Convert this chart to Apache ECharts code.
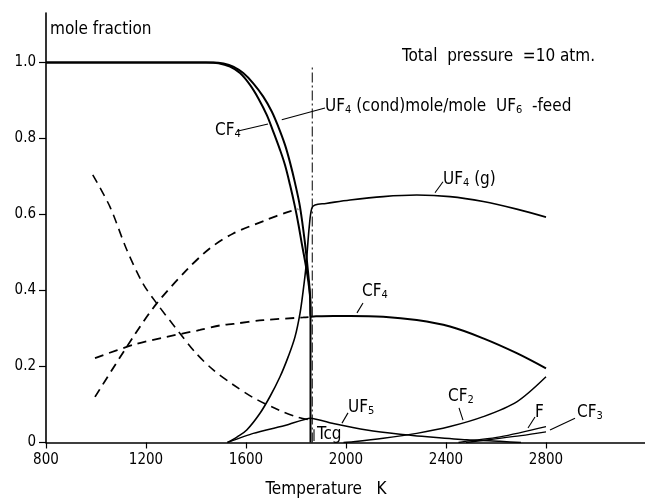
<!DOCTYPE html>
<html>
<head>
<meta charset="utf-8">
<script src="https://cdn.jsdelivr.net/npm/echarts@6/dist/echarts.min.js"></script>
<style>
  html, body { margin: 0; padding: 0; background: #fff; }
  #main { width: 645px; height: 502px; }
</style>
</head>
<body>
<div id="main"></div>
<script>
// temperatures (K) and mole fractions
var cf4SolidT = [800, 1440, 1490, 1536, 1576, 1616, 1649, 1683, 1709, 1736, 1756, 1776, 1796, 1810, 1823, 1840, 1850, 1857, 1858, 1880, 1950, 2016, 2149, 2283, 2416, 2549, 2683, 2800];
var cf4SolidV = [1, 1, 0.998, 0.989, 0.972, 0.941, 0.906, 0.862, 0.818, 0.77, 0.73, 0.678, 0.62, 0.573, 0.524, 0.463, 0.42, 0.375, 0.331, 0.332, 0.333, 0.333, 0.331, 0.322, 0.305, 0.274, 0.235, 0.195];

var uf4CondT = [800, 1470, 1510, 1549, 1589, 1629, 1669, 1703, 1729, 1756, 1776, 1796, 1816, 1836, 1848, 1856, 1858, 1858];
var uf4CondV = [1, 1, 0.997, 0.989, 0.972, 0.945, 0.91, 0.871, 0.831, 0.783, 0.737, 0.683, 0.62, 0.524, 0.45, 0.39, 0.33, 0];

var uf4GasT = [1526, 1565, 1603, 1656, 1696, 1736, 1769, 1796, 1816, 1829, 1840, 1853, 1863, 1876, 1920, 2016, 2149, 2283, 2416, 2549, 2683, 2800];
var uf4GasV = [0, 0.015, 0.033, 0.077, 0.121, 0.173, 0.226, 0.278, 0.34, 0.401, 0.463, 0.568, 0.616, 0.625, 0.629, 0.638, 0.647, 0.651, 0.647, 0.634, 0.614, 0.593];

var uf4GasDashT = [996, 1149, 1243, 1363, 1456, 1549, 1683, 1760, 1809];
var uf4GasDashV = [0.12, 0.278, 0.366, 0.454, 0.511, 0.55, 0.586, 0.605, 0.614];

var cf4DashT = [996, 1149, 1283, 1416, 1496, 1549, 1669, 1829, 1850];
var cf4DashV = [0.222, 0.257, 0.278, 0.296, 0.308, 0.312, 0.322, 0.329, 0.33];

var uf5DashT = [987, 1056, 1123, 1187, 1243, 1336, 1400, 1469, 1549, 1629, 1736, 1800, 1856];
var uf5DashV = [0.704, 0.62, 0.507, 0.419, 0.366, 0.287, 0.235, 0.191, 0.152, 0.118, 0.084, 0.068, 0.059];

var uf5SolidT = [1526, 1629, 1763, 1858, 1949, 2083, 2216, 2349, 2483, 2616, 2700];
var uf5SolidV = [0, 0.024, 0.046, 0.064, 0.05, 0.033, 0.022, 0.014, 0.007, 0.003, 0];

var cf2T = [1990, 2029, 2149, 2283, 2416, 2549, 2683, 2800];
var cf2V = [0, 0.002, 0.011, 0.024, 0.042, 0.068, 0.107, 0.173];

var fT = [2450, 2496, 2616, 2800];
var fV = [0, 0.005, 0.015, 0.042];

var cf3T = [2480, 2563, 2700, 2800];
var cf3V = [0, 0.007, 0.018, 0.028];

var tcg = 1865;

var xTicks = [800, 1200, 1600, 2000, 2400, 2800];

var FONT = '"DejaVu Sans Condensed", "DejaVu Sans", sans-serif';

function zip(t, v) {
    var out = [];
    for (var i = 0; i < t.length; i++) {
        out.push([t[i], v[i]]);
    }
    return out;
}

function curve(name, t, v, width, dashed, smooth) {
    return {
        name: name,
        type: 'line',
        data: zip(t, v),
        showSymbol: false,
        symbol: 'none',
        smooth: smooth || false,
        silent: true,
        lineStyle: {
            color: '#000',
            width: width,
            type: dashed ? [9, 6] : 'solid'
        },
        z: 3
    };
}

var chart = echarts.init(document.getElementById('main'));

var option = {
    backgroundColor: '#fff',
    animation: false,
    grid: { left: 46, right: 0, top: 13, bottom: 59.5 },
    xAxis: {
        type: 'value',
        min: 800,
        max: 3196,
        interval: 400,
        axisLine: { lineStyle: { color: '#000', width: 1.6 } },
        axisTick: { length: 6, lineStyle: { color: '#000', width: 1.2 } },
        axisLabel: {
            color: '#000', fontFamily: FONT, fontSize: 15, margin: 10,
            showMaxLabel: false,
            formatter: function (v) { return xTicks.indexOf(v) >= 0 ? String(v) : ''; }
        },
        splitLine: { show: false }
    },
    yAxis: {
        type: 'value',
        min: 0,
        max: 1.13,
        interval: 0.2,
        axisLine: { show: true, lineStyle: { color: '#000', width: 1.6 } },
        axisTick: { show: true, length: 7, lineStyle: { color: '#000', width: 1.2 } },
        axisLabel: {
            color: '#000', fontFamily: FONT, fontSize: 15, margin: 10,
            showMaxLabel: false,
            formatter: function (v) { return v === 0 ? '0' : v.toFixed(1); }
        },
        splitLine: { show: false }
    },
    series: [
        curve('CF4', cf4SolidT, cf4SolidV, 2, false, 0.35),
        curve('UF4 cond', uf4CondT, uf4CondV, 2, false, 0.35),
        curve('UF4 g', uf4GasT, uf4GasV, 1.6, false, 0.35),
        curve('UF4 g metastable', uf4GasDashT, uf4GasDashV, 1.8, true, 0.3),
        curve('CF4 metastable', cf4DashT, cf4DashV, 1.8, true, 0.3),
        curve('UF5 metastable', uf5DashT, uf5DashV, 1.6, true, 0.3),
        curve('UF5', uf5SolidT, uf5SolidV, 1.5, false, 0.2),
        curve('CF2', cf2T, cf2V, 1.5, false, 0.3),
        curve('F', fT, fV, 1.3, false, 0.3),
        curve('CF3', cf3T, cf3V, 1.3, false, 0.3),
        {
            name: 'Tcg',
            type: 'line',
            data: [[tcg, 0], [tcg, 0.993]],
            showSymbol: false,
            symbol: 'none',
            silent: true,
            lineStyle: { color: '#000', width: 1, type: [10, 3, 2, 3] },
            z: 2
        }
    ]
};
chart.setOption(option);

// annotations: [text, T, v] for the text's left/middle, leaders as [T1, v1, T2, v2]
var sub = { fontSize: 11, lineHeight: 8, verticalAlign: 'bottom', fontFamily: FONT, fill: '#000' };
var notes = [
    ['mole fraction', 816, 1.086],
    ['Total  pressure  =10 atm.', 2224, 1.015],
    ['UF{s|4} (cond)mole/mole  UF{s|6}  -feed', 1916, 0.883],
    ['CF{s|4}', 1476, 0.82],
    ['UF{s|4} (g)', 2388, 0.691],
    ['CF{s|4}', 2064, 0.396],
    ['UF{s|5}', 2008, 0.091],
    ['Tcg', 1884, 0.022],
    ['CF{s|2}', 2408, 0.12],
    ['F', 2756, 0.08],
    ['CF{s|3}', 2924, 0.078]
];
var leaders = [
    [1564, 0.819, 1688, 0.838],
    [1743, 0.849, 1916, 0.880],
    [2356, 0.657, 2388, 0.686],
    [2044, 0.341, 2068, 0.367],
    [1984, 0.051, 2008, 0.078],
    [2468, 0.059, 2452, 0.091],
    [2728, 0.038, 2756, 0.067],
    [2816, 0.033, 2916, 0.064],
    [1872, 0.035, 1872, 0.004]
];

function px(t, v) {
    return chart.convertToPixel({ gridIndex: 0 }, [t, v]);
}

var elements = [];
notes.forEach(function (n) {
    var p = px(n[1], n[2]);
    elements.push({
        type: 'text',
        x: p[0],
        y: p[1],
        silent: true,
        style: {
            text: n[0],
            fill: '#000',
            font: '17px ' + FONT,
            lineHeight: 18,
            verticalAlign: 'middle',
            align: 'left',
            rich: { s: sub }
        },
        z: 10
    });
});
leaders.forEach(function (l) {
    var a = px(l[0], l[1]);
    var b = px(l[2], l[3]);
    elements.push({
        type: 'line',
        silent: true,
        shape: { x1: a[0], y1: a[1], x2: b[0], y2: b[1] },
        style: { stroke: '#000', lineWidth: 1.1 },
        z: 10
    });
});
elements.push({
    type: 'text',
    x: 326,
    y: 490,
    silent: true,
    style: {
        text: 'Temperature   K',
        fill: '#000',
        font: '17px ' + FONT,
        align: 'center',
        verticalAlign: 'middle'
    }
});
chart.setOption({ graphic: { elements: elements } });
</script>
</body>
</html>
